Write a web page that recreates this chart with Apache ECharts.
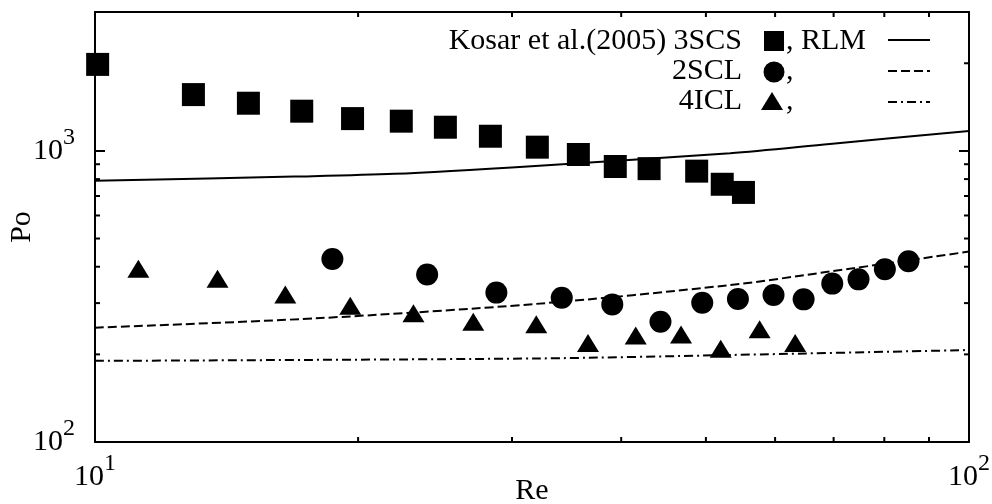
<!DOCTYPE html>
<html>
<head>
<meta charset="utf-8">
<script src="https://cdn.jsdelivr.net/npm/echarts@6/dist/echarts.min.js"></script>
<style>
html,body{margin:0;padding:0;background:#fff;}
#chart{width:992px;height:504px;}
</style>
</head>
<body>
<div id="chart"></div>
<script>
// ---- data ----
const scs3Re = [10.07, 12.96, 14.98, 17.24, 19.71, 22.41, 25.17, 28.34, 32.07, 35.73, 39.38, 43.05, 48.8, 52.2, 55.2];
const scs3Po = [1982, 1561, 1458, 1369, 1291, 1265, 1206, 1123, 1030, 972, 884, 869, 852, 768, 720];

const scl2Re = [18.69, 23.99, 28.79, 34.2, 39.07, 44.36, 49.52, 54.4, 59.75, 64.68, 69.75, 74.75, 80.12, 85.26];
const scl2Po = [425, 376, 326, 313, 297, 259, 301, 310, 320, 309, 350, 362, 392, 418];

const icl4Re = [11.21, 13.81, 16.51, 19.59, 23.14, 27.09, 31.98, 36.65, 41.56, 46.83, 51.99, 57.6, 63.26];
const icl4Po = [394, 364, 321, 294, 277, 259, 254, 219, 232, 234, 209, 244, 219];

const rlmScsRe = [10, 16.9, 22.0, 31.9, 53.3, 69.3, 100];
const rlmScsPo = [789, 816, 834, 888, 982, 1057, 1171];

const rlmSclRe = [10, 17.9, 31.9, 53.3, 69.3, 100];
const rlmSclPo = [247, 266, 298, 346, 385, 451];

const rlmIclRe = [10, 31.9, 53.3, 100];
const rlmIclPo = [190, 193.6, 199, 207];

const xMinorTicks = [20, 30, 40, 50, 60, 70, 80, 90];
const yMinorTicks = [200, 300, 400, 500, 600, 700, 800, 900, 2000];

const X_MIN = 10, X_MAX = 100, Y_MIN = 100, Y_MAX = 3000;

// ---- chart ----
const FONT = '"Liberation Serif", "DejaVu Serif", serif';
const pairs = (a, b) => a.map((v, i) => [v, b[i]]);

const chart = echarts.init(document.getElementById('chart'), null, {renderer: 'canvas'});

const supLabel = function (v) {
  const e = Math.log10(v);
  if (Math.abs(e - Math.round(e)) > 1e-6) return '';
  return '{a|10}{b|' + Math.round(e) + '}';
};
const richSup = {
  a: {fontSize: 30, fontFamily: FONT, color: '#000', lineHeight: 50},
  b: {fontSize: 24, fontFamily: FONT, color: '#000', lineHeight: 24, verticalAlign: 'top'}
};

const axisLine = {show: true, onZero: false, lineStyle: {color: '#000', width: 2}};
const majorTick = {show: true, inside: true, length: 10, lineStyle: {color: '#000', width: 2}};
const blackMark = {color: '#000', opacity: 1, borderWidth: 0};

const option = {
  animation: false,
  backgroundColor: '#fff',
  grid: {left: 95, right: 23, top: 12, bottom: 62, containLabel: false, outerBoundsMode: 'none'},
  xAxis: [
    {
      type: 'log', logBase: 10, min: X_MIN, max: X_MAX, position: 'bottom',
      name: 'Re', nameLocation: 'middle', nameGap: 34, nameMoveOverlap: false,
      nameTextStyle: {fontSize: 30, fontFamily: FONT, color: '#000'},
      axisLine: axisLine, axisTick: majorTick, splitLine: {show: false},
      axisLabel: {show: true, margin: 10, formatter: supLabel, rich: richSup}
    },
    {
      type: 'log', logBase: 10, min: X_MIN, max: X_MAX, position: 'top',
      axisLine: axisLine, axisTick: majorTick, splitLine: {show: false},
      axisLabel: {show: false}
    }
  ],
  yAxis: [
    {
      type: 'log', logBase: 10, min: Y_MIN, max: Y_MAX, position: 'left',
      name: 'Po', nameLocation: 'middle', nameGap: 58, nameRotate: 90, nameMoveOverlap: false,
      nameTextStyle: {fontSize: 30, fontFamily: FONT, color: '#000'},
      axisLine: axisLine, axisTick: majorTick, splitLine: {show: false},
      axisLabel: {show: true, margin: 20, formatter: supLabel, rich: richSup}
    },
    {
      type: 'log', logBase: 10, min: Y_MIN, max: Y_MAX, position: 'right',
      axisLine: axisLine, axisTick: majorTick, splitLine: {show: false},
      axisLabel: {show: false}
    }
  ],
  series: [
    {
      name: 'RLM 3SCS', type: 'line', data: pairs(rlmScsRe, rlmScsPo), smooth: 0.3,
      showSymbol: false, lineStyle: {color: '#000', width: 2}, z: 2
    },
    {
      name: 'RLM 2SCL', type: 'line', data: pairs(rlmSclRe, rlmSclPo), smooth: 0.3,
      showSymbol: false, lineStyle: {color: '#000', width: 2, type: [9, 4]}, z: 2
    },
    {
      name: 'RLM 4ICL', type: 'line', data: pairs(rlmIclRe, rlmIclPo), smooth: 0.3,
      showSymbol: false, lineStyle: {color: '#000', width: 2, type: [9, 4, 2, 4]}, z: 2
    },
    {
      name: '3SCS', type: 'scatter', data: pairs(scs3Re, scs3Po), symbol: 'rect', symbolSize: 23,
      itemStyle: blackMark, clip: false, z: 3
    },
    {
      name: '2SCL', type: 'scatter', data: pairs(scl2Re, scl2Po), symbol: 'circle', symbolSize: 22,
      itemStyle: blackMark, clip: false, z: 3
    },
    {
      name: '4ICL', type: 'scatter', data: pairs(icl4Re, icl4Po), symbol: 'triangle', symbolSize: [22, 18],
      itemStyle: blackMark, clip: false, z: 3
    },
    {
      name: 'xMinor', type: 'custom', silent: true, clip: false, z: 4,
      data: xMinorTicks.map(v => [v, Y_MIN]),
      renderItem: function (params, api) {
        const v = api.value(0);
        const b = api.coord([v, Y_MIN]);
        const t = api.coord([v, Y_MAX]);
        const st = {stroke: '#000', lineWidth: 2};
        return {type: 'group', children: [
          {type: 'line', shape: {x1: b[0], y1: b[1], x2: b[0], y2: b[1] - 5}, style: st},
          {type: 'line', shape: {x1: t[0], y1: t[1], x2: t[0], y2: t[1] + 5}, style: st}
        ]};
      }
    },
    {
      name: 'yMinor', type: 'custom', silent: true, clip: false, z: 4,
      data: yMinorTicks.map(v => [X_MIN, v]),
      renderItem: function (params, api) {
        const v = api.value(1);
        const l = api.coord([X_MIN, v]);
        const r = api.coord([X_MAX, v]);
        const st = {stroke: '#000', lineWidth: 2};
        return {type: 'group', children: [
          {type: 'line', shape: {x1: l[0], y1: l[1], x2: l[0] + 5, y2: l[1]}, style: st},
          {type: 'line', shape: {x1: r[0], y1: r[1], x2: r[0] - 5, y2: r[1]}, style: st}
        ]};
      }
    }
  ],
  graphic: [
    {type: 'text', x: 742, y: 41, style: {text: 'Kosar et al.(2005) 3SCS', font: '30px ' + FONT, fill: '#000', align: 'right', verticalAlign: 'middle'}},
    {type: 'rect', shape: {x: 764, y: 31, width: 20, height: 20}, style: {fill: '#000'}},
    {type: 'text', x: 786, y: 41, style: {text: ', RLM', font: '30px ' + FONT, fill: '#000', align: 'left', verticalAlign: 'middle'}},
    {type: 'line', shape: {x1: 888, y1: 40, x2: 930, y2: 40}, style: {stroke: '#000', lineWidth: 2}},

    {type: 'text', x: 742, y: 71, style: {text: '2SCL', font: '30px ' + FONT, fill: '#000', align: 'right', verticalAlign: 'middle'}},
    {type: 'circle', shape: {cx: 774, cy: 72, r: 10.5}, style: {fill: '#000'}},
    {type: 'text', x: 786, y: 71, style: {text: ',', font: '30px ' + FONT, fill: '#000', align: 'left', verticalAlign: 'middle'}},
    {type: 'line', shape: {x1: 888, y1: 71, x2: 930, y2: 71}, style: {stroke: '#000', lineWidth: 2, lineDash: [9, 4]}},

    {type: 'text', x: 742, y: 101, style: {text: '4ICL', font: '30px ' + FONT, fill: '#000', align: 'right', verticalAlign: 'middle'}},
    {type: 'polygon', shape: {points: [[772, 92], [783, 110], [761, 110]]}, style: {fill: '#000'}},
    {type: 'text', x: 786, y: 101, style: {text: ',', font: '30px ' + FONT, fill: '#000', align: 'left', verticalAlign: 'middle'}},
    {type: 'line', shape: {x1: 888, y1: 102, x2: 930, y2: 102}, style: {stroke: '#000', lineWidth: 2, lineDash: [9, 4, 2, 4]}}
  ]
};

chart.setOption(option);
</script>
</body>
</html>
